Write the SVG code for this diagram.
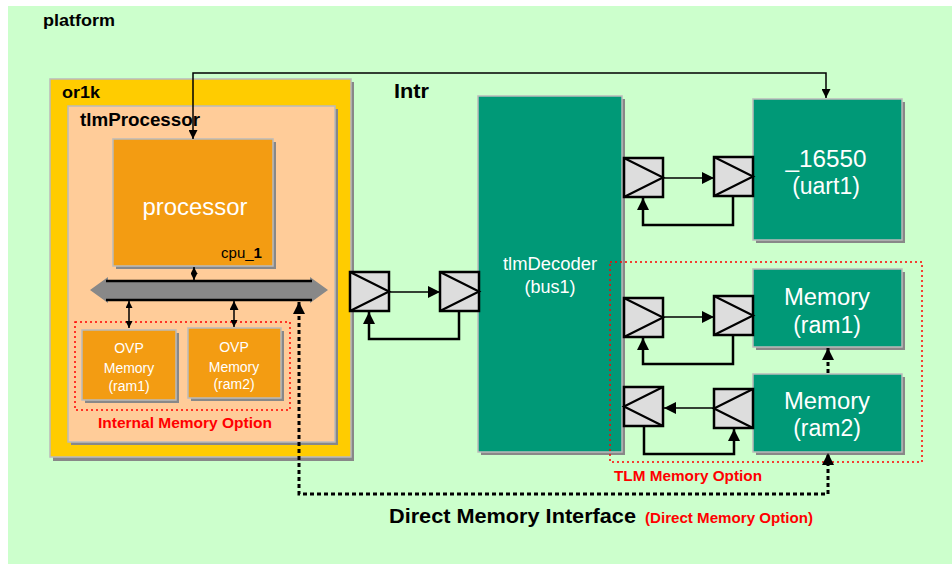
<svg xmlns="http://www.w3.org/2000/svg" xmlns:xlink="http://www.w3.org/1999/xlink" width="952" height="564" viewBox="0 0 952 564">
<style>
.lbl{font-family:"Liberation Sans",Arial,sans-serif;font-weight:bold;fill:#000}
.wt{font-family:"Liberation Sans",Arial,sans-serif;fill:#fff;text-anchor:middle}
.red{font-family:"Liberation Sans",Arial,sans-serif;font-weight:bold;fill:#ff0000}
.sh{fill:#888888}
.box{stroke:#bbbbbb;stroke-width:1.5}
.teal{fill:#009977}
.orng{fill:#f39c12}
.ln{fill:none;stroke:#000;stroke-width:1.5}
.fb{fill:none;stroke:#000;stroke-width:2.5}
.dmi{fill:none;stroke:#000;stroke-width:3;stroke-dasharray:4 3}
.opt{fill:none;stroke:#ff0000;stroke-width:1.5;stroke-dasharray:2 3}
</style>
<defs>
<marker id="a" viewBox="0 0 10 10" refX="10" refY="5" markerWidth="9" markerHeight="9" markerUnits="userSpaceOnUse" orient="auto-start-reverse"><path d="M0,0 L10,5 L0,10 z" fill="#000"/></marker>
<marker id="ab" viewBox="0 0 10 10" refX="10" refY="5" markerWidth="12" markerHeight="12" markerUnits="userSpaceOnUse" orient="auto-start-reverse"><path d="M0,0 L10,5 L0,10 z" fill="#000"/></marker>
<marker id="as" viewBox="0 0 10 10" refX="10" refY="5" markerWidth="7" markerHeight="7" markerUnits="userSpaceOnUse" orient="auto-start-reverse"><path d="M0,0 L10,5 L0,10 z" fill="#000"/></marker>
<g id="sr"><rect x="0" y="0" width="39" height="39" fill="#dddddd" stroke="#000" stroke-width="2.5"/><path d="M0,0 L39,19.5 L0,39" fill="none" stroke="#000" stroke-width="2.2"/></g>
<g id="sl"><rect x="0" y="0" width="39" height="39" fill="#dddddd" stroke="#000" stroke-width="2.5"/><path d="M39,0 L0,19.5 L39,39" fill="none" stroke="#000" stroke-width="2.2"/></g>
</defs>

<g id="platform">
<rect x="8" y="6" width="944" height="558" fill="#ccffcc"/>
<text class="lbl" x="43" y="26" font-size="17" textLength="72" lengthAdjust="spacingAndGlyphs">platform</text>
<text class="lbl" x="394" y="98" font-size="20" textLength="35" lengthAdjust="spacingAndGlyphs">Intr</text>
</g>

<g id="or1k">
<rect class="sh" x="53" y="82" width="301" height="379"/>
<rect class="box" x="50" y="79" width="301" height="378" fill="#ffcc00"/>
<text class="lbl" x="62" y="98" font-size="17" textLength="38" lengthAdjust="spacingAndGlyphs">or1k</text>
</g>

<g id="tlmProcessor">
<rect class="sh" x="71" y="109" width="267" height="336"/>
<rect class="box" x="68" y="106" width="267" height="336" fill="#ffcc99"/>
<text class="lbl" x="80" y="126" font-size="18" textLength="120" lengthAdjust="spacingAndGlyphs">tlmProcessor</text>
</g>

<g id="processor">
<rect class="sh" x="116" y="142" width="160" height="127"/>
<rect class="box orng" x="113" y="139" width="160" height="127"/>
<text class="wt" x="195" y="215" font-size="24" textLength="105" lengthAdjust="spacingAndGlyphs">processor</text>
<text x="221" y="258" font-size="15" font-family="Liberation Sans,Arial,sans-serif" fill="#000" textLength="41" lengthAdjust="spacingAndGlyphs">cpu_<tspan font-weight="bold">1</tspan></text>
</g>

<g id="bus">
<polygon points="90,290 108,277 108,281 310,281 310,277 328,290 310,303 310,300 108,300 108,303" fill="#888888"/>
<line x1="106" y1="281" x2="312" y2="281" stroke="#000" stroke-width="2.5"/>
<line x1="106" y1="300" x2="312" y2="300" stroke="#000" stroke-width="2.5"/>
</g>

<g id="internalMemoryOption">
<rect class="opt" x="75" y="322" width="215" height="88"/>
<text class="red" x="98" y="428" font-size="15" textLength="174" lengthAdjust="spacingAndGlyphs">Internal Memory Option</text>
</g>

<g id="ovpRam1">
<rect class="sh" x="85" y="333" width="94" height="70"/>
<rect class="box orng" x="82" y="330" width="94" height="70"/>
<text class="wt" x="129" y="353" font-size="14">OVP</text>
<text class="wt" x="129" y="373" font-size="14">Memory</text>
<text class="wt" x="129" y="391" font-size="14">(ram1)</text>
</g>

<g id="ovpRam2">
<rect class="sh" x="191" y="331" width="93" height="70"/>
<rect class="box orng" x="188" y="328" width="93" height="70"/>
<text class="wt" x="234" y="352" font-size="14">OVP</text>
<text class="wt" x="234" y="372" font-size="14">Memory</text>
<text class="wt" x="234" y="389" font-size="14">(ram2)</text>
</g>

<g id="tlmDecoder">
<rect class="sh" x="481" y="99" width="144" height="356"/>
<rect class="box teal" x="478" y="96" width="144" height="356"/>
<text class="wt" x="550" y="270" font-size="18" textLength="94" lengthAdjust="spacingAndGlyphs">tlmDecoder</text>
<text class="wt" x="550" y="293" font-size="18">(bus1)</text>
</g>

<g id="uart1">
<rect class="sh" x="756" y="102" width="149" height="141"/>
<rect class="box teal" x="753" y="99" width="149" height="141"/>
<text class="wt" x="826" y="167" font-size="23" textLength="81" lengthAdjust="spacingAndGlyphs">_16550</text>
<text class="wt" x="826" y="194" font-size="23">(uart1)</text>
</g>

<g id="ram1">
<rect class="sh" x="756" y="272" width="149" height="78"/>
<rect class="box teal" x="753" y="269" width="149" height="78"/>
<text class="wt" x="827" y="305" font-size="23" textLength="86" lengthAdjust="spacingAndGlyphs">Memory</text>
<text class="wt" x="827" y="333" font-size="23">(ram1)</text>
</g>

<g id="ram2">
<rect class="sh" x="756" y="377" width="149" height="78"/>
<rect class="box teal" x="753" y="374" width="149" height="78"/>
<text class="wt" x="827" y="409" font-size="23" textLength="86" lengthAdjust="spacingAndGlyphs">Memory</text>
<text class="wt" x="827" y="436" font-size="23">(ram2)</text>
</g>

<g id="tlmMemoryOption">
<rect class="opt" x="610" y="262" width="312" height="200"/>
<text class="red" x="614" y="481" font-size="15" textLength="148" lengthAdjust="spacingAndGlyphs">TLM Memory Option</text>
</g>

<g id="sockets">
<use xlink:href="#sr" x="350" y="272"/>
<use xlink:href="#sr" x="440" y="272"/>
<use xlink:href="#sr" x="624" y="158"/>
<use xlink:href="#sr" x="714" y="157"/>
<use xlink:href="#sr" x="624" y="298"/>
<use xlink:href="#sr" x="714" y="296"/>
<use xlink:href="#sl" x="624" y="387"/>
<use xlink:href="#sl" x="714" y="389"/>
</g>

<g id="connectors">
<path class="ln" d="M826,98 L826,73 L193,73 L193,139" marker-start="url(#a)" marker-end="url(#a)"/>
<line class="ln" x1="194" y1="267" x2="194" y2="280" marker-start="url(#as)" marker-end="url(#as)"/>
<line class="ln" x1="129" y1="301" x2="129" y2="328" marker-start="url(#as)" marker-end="url(#as)"/>
<line class="ln" x1="234" y1="301" x2="234" y2="327" marker-start="url(#a)" marker-end="url(#as)"/>
<path class="dmi" d="M299,302 L299,494 L828,494 L828,453" marker-start="url(#ab)" marker-end="url(#ab)"/>
<line class="dmi" x1="828" y1="373" x2="828" y2="348" marker-end="url(#ab)"/>
<line class="ln" x1="390" y1="292" x2="440" y2="292" stroke-width="2" marker-end="url(#ab)"/>
<path class="fb" d="M459,312 L459,339 L369,339 L369,312" marker-end="url(#ab)"/>
<line class="ln" x1="663" y1="178" x2="714" y2="178" marker-end="url(#ab)"/>
<path class="fb" d="M733,197 L733,225 L643,225 L643,198" marker-end="url(#ab)"/>
<line class="ln" x1="663" y1="317" x2="714" y2="317" marker-end="url(#ab)"/>
<path class="fb" d="M733,336 L733,364 L643,364 L643,338" marker-end="url(#ab)"/>
<line class="ln" x1="714" y1="408" x2="664" y2="408" marker-end="url(#ab)"/>
<path class="fb" d="M644,427 L644,454 L734,454 L734,429" marker-end="url(#ab)"/>
</g>

<g id="dmiLabel">
<text class="lbl" x="389" y="523" font-size="21" textLength="247" lengthAdjust="spacingAndGlyphs">Direct Memory Interface</text>
<text class="red" x="645" y="523" font-size="14" textLength="168" lengthAdjust="spacingAndGlyphs">(Direct Memory Option)</text>
</g>
</svg>
